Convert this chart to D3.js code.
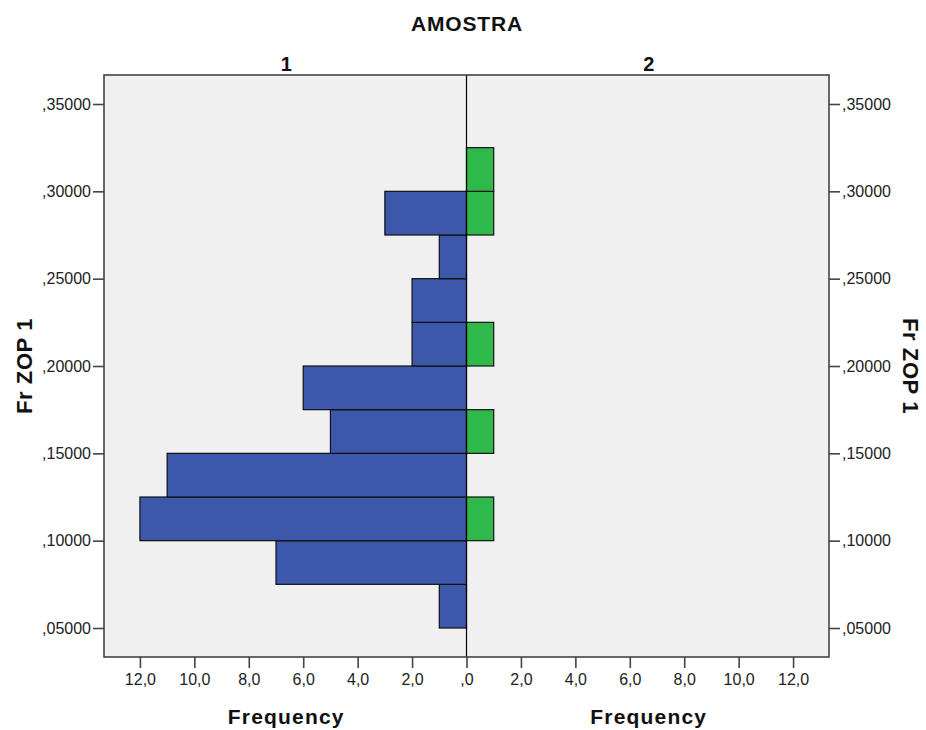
<!DOCTYPE html>
<html>
<head>
<meta charset="utf-8">
<script src="https://cdn.jsdelivr.net/npm/d3@7"></script>
<style>
  body { margin: 0; background: #fff; }
  text { font-family: "Liberation Sans", Arial, sans-serif; }
</style>
</head>
<body>
<div id="chart"></div>
<script>
// bin lower edges (Fr ZOP 1), width 0.025
const binStarts = [0.05, 0.075, 0.10, 0.125, 0.15, 0.175, 0.20, 0.225, 0.25, 0.275, 0.30];
const freqSample1 = [1, 7, 12, 11, 5, 6, 2, 2, 1, 3, 0];
const freqSample2 = [0, 0, 1, 0, 1, 0, 1, 0, 0, 1, 1];
const binWidth = 0.025;
const yTicks = [0.05, 0.10, 0.15, 0.20, 0.25, 0.30, 0.35];
const xTicks = [0, 2, 4, 6, 8, 10, 12];
const panelLabels = ['1', '2'];

const width = 926, height = 730;
const margin = {left: 104, right: 97, top: 75, bottom: 73};
const innerW = width - margin.left - margin.right;
const innerH = height - margin.top - margin.bottom;
const half = innerW / 2;

const svg = d3.select('#chart').append('svg')
    .attr('width', width).attr('height', height);

const g = svg.append('g').attr('transform', `translate(${margin.left},${margin.top})`);

const yScale = d3.scaleLinear().domain([0.0334, 0.3666]).range([innerH, 0]);
const xLeft = d3.scaleLinear().domain([13.32, 0]).range([0, half]);
const xRight = d3.scaleLinear().domain([0, 13.32]).range([half, innerW]);

// background
g.append('rect').attr('width', innerW).attr('height', innerH).attr('fill', '#f0f0f0');

const fmtY = d => d3.format('.5f')(d).replace(/^0/, '').replace('.', ',');
const fmtX = d => d === 0 ? ',0' : d3.format('.1f')(d).replace('.', ',');

const data = binStarts.map((b, i) => ({lo: b, hi: b + binWidth, f1: freqSample1[i], f2: freqSample2[i]}));

g.selectAll('.bar-1').data(data.filter(d => d.f1 > 0)).enter().append('rect')
    .attr('class', 'bar-1')
    .attr('x', d => xLeft(d.f1))
    .attr('y', d => yScale(d.hi))
    .attr('width', d => xLeft(0) - xLeft(d.f1))
    .attr('height', d => yScale(d.lo) - yScale(d.hi))
    .attr('fill', '#3d57ab').attr('stroke', '#111').attr('stroke-width', 1.2);

g.selectAll('.bar-2').data(data.filter(d => d.f2 > 0)).enter().append('rect')
    .attr('class', 'bar-2')
    .attr('x', xRight(0))
    .attr('y', d => yScale(d.hi))
    .attr('width', d => xRight(d.f2) - xRight(0))
    .attr('height', d => yScale(d.lo) - yScale(d.hi))
    .attr('fill', '#2fb94b').attr('stroke', '#111').attr('stroke-width', 1.2);

// center line
g.append('line').attr('x1', half).attr('x2', half).attr('y1', 0).attr('y2', innerH)
    .attr('stroke', '#000').attr('stroke-width', 1.2);

// frame
g.append('rect').attr('width', innerW).attr('height', innerH)
    .attr('fill', 'none').attr('stroke', '#444').attr('stroke-width', 1.6);

// axes
const axisStyle = sel => {
    sel.select('.domain').remove();
    sel.selectAll('.tick line').attr('stroke', '#444').attr('stroke-width', 1.6);
    sel.selectAll('.tick text').attr('fill', '#222').style('font-size', '16px');
};
g.append('g').call(d3.axisLeft(yScale).tickValues(yTicks).tickFormat(fmtY).tickSize(11).tickPadding(2)).call(axisStyle);
g.append('g').attr('transform', `translate(${innerW},0)`)
    .call(d3.axisRight(yScale).tickValues(yTicks).tickFormat(fmtY).tickSize(11).tickPadding(2)).call(axisStyle);
g.append('g').attr('transform', `translate(0,${innerH})`)
    .call(d3.axisBottom(xLeft).tickValues(xTicks).tickFormat(fmtX).tickSize(11).tickPadding(6)).call(axisStyle);
g.append('g').attr('transform', `translate(0,${innerH})`)
    .call(d3.axisBottom(xRight).tickValues(xTicks.slice(1)).tickFormat(fmtX).tickSize(11).tickPadding(6)).call(axisStyle);

// titles
svg.append('text').attr('x', width / 2 + 4).attr('y', 31).attr('text-anchor', 'middle')
    .style('font-size', '21px').style('font-weight', 'bold').style('letter-spacing', '0.8px')
    .attr('fill', '#111').text('AMOSTRA');
panelLabels.forEach((t, i) => {
    svg.append('text').attr('x', margin.left + half * i + half / 2 + 1).attr('y', 71).attr('text-anchor', 'middle')
        .style('font-size', '20px').style('font-weight', 'bold').attr('fill', '#111').text(t);
    svg.append('text').attr('x', margin.left + half * i + half / 2 + 1).attr('y', 724).attr('text-anchor', 'middle')
        .style('font-size', '21px').style('font-weight', 'bold').style('letter-spacing', '1.2px')
        .attr('fill', '#111').text('Frequency');
});
svg.append('text').attr('transform', `translate(32,${margin.top + innerH / 2}) rotate(-90)`)
    .attr('text-anchor', 'middle').style('font-size', '22px').style('font-weight', 'bold').style('letter-spacing', '0.6px')
    .attr('fill', '#111').text('Fr ZOP 1');
svg.append('text').attr('transform', `translate(903,${margin.top + innerH / 2}) rotate(90)`)
    .attr('text-anchor', 'middle').style('font-size', '22px').style('font-weight', 'bold').style('letter-spacing', '0.6px')
    .attr('fill', '#111').text('Fr ZOP 1');
</script>
</body>
</html>
